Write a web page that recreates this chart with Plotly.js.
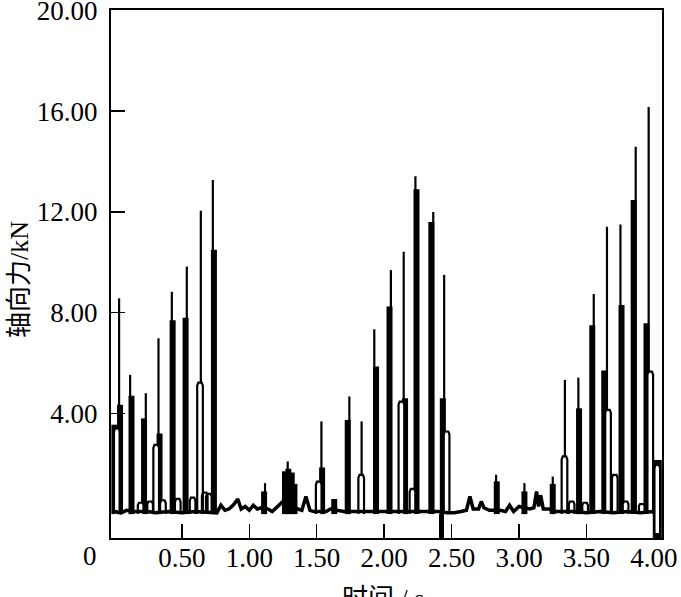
<!DOCTYPE html>
<html>
<head>
<meta charset="utf-8">
<script src="https://cdn.plot.ly/plotly-3.0.1.min.js"></script>
<style>html,body{margin:0;padding:0;background:#fff;}#chart{width:681px;height:597px;}</style>
</head>
<body>
<div id="chart"></div>
<script>
// ---- data (time in s, axial force in kN) ----
// thin spike lines: time and peak value
var spikeT    = [0.035, 0.117, 0.233, 0.327, 0.426, 0.537, 0.641, 0.730, 1.117, 1.285, 1.535, 1.742, 1.833, 1.927, 2.050, 2.145, 2.232, 2.364, 2.445, 2.830, 3.040, 3.250, 3.340, 3.440, 3.554, 3.652, 3.752, 3.865, 3.961];
var spikePeak = [8.57, 5.53, 4.80, 6.98, 8.83, 9.83, 12.05, 13.27, 1.23, 2.09, 3.68, 4.67, 3.68, 7.34, 9.69, 10.42, 13.42, 12.00, 9.50, 1.56, 1.23, 1.49, 5.33, 5.42, 8.74, 11.41, 11.50, 14.59, 16.17];
// thick solid parts of the spikes: time and top value
var bandT   = [0.000, 0.042, 0.127, 0.220, 0.335, 0.432, 0.528, 0.738, 1.110, 1.265, 1.290, 1.315, 1.335, 1.540, 1.630, 1.730, 1.940, 2.040, 2.155, 2.240, 2.350, 2.435, 2.835, 3.040, 3.250, 3.445, 3.543, 3.632, 3.760, 3.850, 3.945];
var bandTop = [3.55, 4.34, 4.70, 3.80, 3.20, 7.70, 7.80, 10.50, 0.90, 1.70, 1.80, 1.65, 1.20, 1.85, 0.60, 3.74, 5.86, 8.24, 4.60, 12.90, 11.60, 4.60, 1.30, 0.90, 1.20, 4.20, 7.50, 5.70, 8.30, 12.47, 7.58];
// hollow (outlined) humps: time, top value, bottom value
var loopT    = [0.018, 0.195, 0.265, 0.310, 0.360, 0.470, 0.580, 0.635, 0.670, 0.700, 1.515, 1.830, 2.128, 2.210, 2.463, 3.337, 3.390, 3.490, 3.660, 3.710, 3.790, 3.910, 3.973, 4.025];
var loopTop  = [3.40, 0.45, 0.50, 2.75, 0.55, 0.60, 0.65, 5.22, 0.85, 0.80, 1.29, 1.56, 4.47, 1.00, 3.28, 2.29, 0.50, 0.45, 4.14, 1.56, 0.50, 0.40, 5.66, 1.95];
var loopBase = [0, 0, 0, 0, 0, 0, 0, 0, 0, 0, 0, 0, 0, 0, 0, 0, 0, 0, 0, 0, 0, 0, 0, -0.75];
// narrow dip below zero: time, bottom value
var dipT = [2.425];
var dipBottom = [-0.95];
// solid block at the end of the record: time, bottom, top
var endT = [4.025];
var endBottom = [-0.95];
var endTop = [2.15];
// wavy base line
var baseT = [0, 0.05, 0.09, 0.15, 0.25, 0.30, 0.40, 0.50, 0.60, 0.70, 0.76, 0.79, 0.82, 0.85, 0.88, 0.915, 0.94, 0.97, 1.00, 1.03, 1.06, 1.09, 1.14, 1.17, 1.20, 1.23, 1.25, 1.36, 1.39, 1.42, 1.45, 1.48, 1.57, 1.60, 1.67, 1.70, 1.78, 1.88, 1.99, 2.08, 2.20, 2.30, 2.40, 2.47, 2.52, 2.57, 2.61, 2.636, 2.66, 2.70, 2.72, 2.74, 2.78, 2.86, 2.90, 2.93, 2.96, 3.00, 3.08, 3.11, 3.13, 3.145, 3.16, 3.18, 3.22, 3.28, 3.40, 3.50, 3.60, 3.70, 3.80, 3.90, 3.995];
var baseV = [0.10, 0.05, 0.15, 0.10, 0.10, 0.05, 0.10, 0.05, 0.10, 0.05, 0.05, 0.35, 0.15, 0.20, 0.35, 0.60, 0.20, 0.30, 0.15, 0.35, 0.20, 0.25, 0.20, 0.10, 0.25, 0.40, 0.50, 0.20, 0.15, 0.70, 0.15, 0.10, 0.10, 0.20, 0.15, 0.10, 0.10, 0.10, 0.10, 0.10, 0.10, 0.10, 0.10, 0.05, 0.05, 0.10, 0.15, 0.70, 0.20, 0.20, 0.50, 0.25, 0.15, 0.15, 0.10, 0.35, 0.10, 0.30, 0.20, 0.25, 0.90, 0.30, 0.75, 0.20, 0.20, 0.10, 0.10, 0.05, 0.10, 0.05, 0.10, 0.05, 0.10];
// axis ticks
var xTicks = [0.5, 1.0, 1.5, 2.0, 2.5, 3.0, 3.5, 4.0];
var yTicks = [4, 8, 12, 16, 20];
var xTitle = '时间 / s';
var yTitle = '轴向力/kN';

// ---- build traces ----
function vsegs(ts, tops, bases) {
  var x = [], y = [];
  for (var i = 0; i < ts.length; i++) {
    x.push(ts[i], ts[i], null);
    y.push(bases ? bases[i] : 0, tops[i], null);
  }
  return {x: x, y: y};
}
var HW = 0.021; // half width of a hollow hump (style)
function loops(ts, tops, bases) {
  var x = [], y = [];
  for (var i = 0; i < ts.length; i++) {
    var t = ts[i], h = tops[i], b = bases[i];
    var r = Math.min(0.12, (h - b) * 0.2);
    x.push(t - HW, t - HW, t - HW * 0.6, t + HW * 0.6, t + HW, t + HW, null);
    y.push(b, h - r, h, h, h - r, b, null);
  }
  return {x: x, y: y};
}
var s = vsegs(spikeT, spikePeak);
var b = vsegs(bandT, bandTop);
var l = loops(loopT, loopTop, loopBase);
var d = vsegs(dipT, dipBottom);
var e = vsegs(endT, endTop, endBottom);

var traces = [
  {type: 'scatter', mode: 'lines', x: s.x, y: s.y, line: {color: '#000', width: 2.2}, hoverinfo: 'skip', showlegend: false},
  {type: 'scatter', mode: 'lines', x: b.x, y: b.y, line: {color: '#000', width: 6}, hoverinfo: 'skip', showlegend: false},
  {type: 'scatter', mode: 'lines', x: d.x, y: d.y, line: {color: '#000', width: 5}, hoverinfo: 'skip', showlegend: false},
  {type: 'scatter', mode: 'lines', x: e.x, y: e.y, line: {color: '#000', width: 9}, hoverinfo: 'skip', showlegend: false},
  {type: 'scatter', mode: 'lines', x: l.x, y: l.y, fill: 'toself', fillcolor: '#fff', line: {color: '#000', width: 2.2}, hoverinfo: 'skip', showlegend: false},
  {type: 'scatter', mode: 'lines', x: baseT, y: baseV, line: {color: '#000', width: 3.5}, hoverinfo: 'skip', showlegend: false}
];

var serif = '"Liberation Serif", serif';
var tickFont = {family: serif, size: 27, color: '#000'};
var titleFont = {family: '"Liberation Serif", "Noto Sans CJK SC", serif', size: 26, color: '#000'};
var layout = {
  width: 681, height: 597,
  margin: {l: 111, r: 19, t: 10, b: 59},
  paper_bgcolor: '#fff', plot_bgcolor: '#fff',
  showlegend: false,
  xaxis: {
    range: [-0.025, 4.06], showgrid: false, zeroline: false,
    showline: true, mirror: true, linecolor: '#000', linewidth: 2,
    ticks: 'inside', ticklen: 14, tickwidth: 1.5, tickcolor: '#000',
    tickvals: xTicks, ticktext: xTicks.map(function (v) { return v.toFixed(2); }),
    tickfont: tickFont, ticklabelstandoff: -5, ticklabeloverflow: 'allow'
  },
  yaxis: {
    range: [-0.95, 20.02], showgrid: false, zeroline: false,
    showline: true, mirror: true, linecolor: '#000', linewidth: 2,
    ticks: 'inside', ticklen: 14, tickwidth: 1.5, tickcolor: '#000',
    tickvals: yTicks, ticktext: yTicks.map(function (v) { return v.toFixed(2); }),
    tickfont: tickFont, ticklabelstandoff: 6, ticklabeloverflow: 'allow'
  },
  annotations: [
    {text: '0', xref: 'paper', yref: 'paper', x: -0.038, y: -0.034, xanchor: 'center', yanchor: 'middle', showarrow: false, font: tickFont},
    {text: yTitle, xref: 'paper', yref: 'paper', x: -0.165, y: 0.489, textangle: -90, xanchor: 'center', yanchor: 'middle', showarrow: false, font: titleFont},
    {text: xTitle, xref: 'paper', yref: 'paper', x: 0.494, y: -0.084, xanchor: 'center', yanchor: 'top', showarrow: false, font: titleFont}
  ]
};
Plotly.newPlot('chart', traces, layout, {staticPlot: true, displayModeBar: false});
</script>
</body>
</html>
